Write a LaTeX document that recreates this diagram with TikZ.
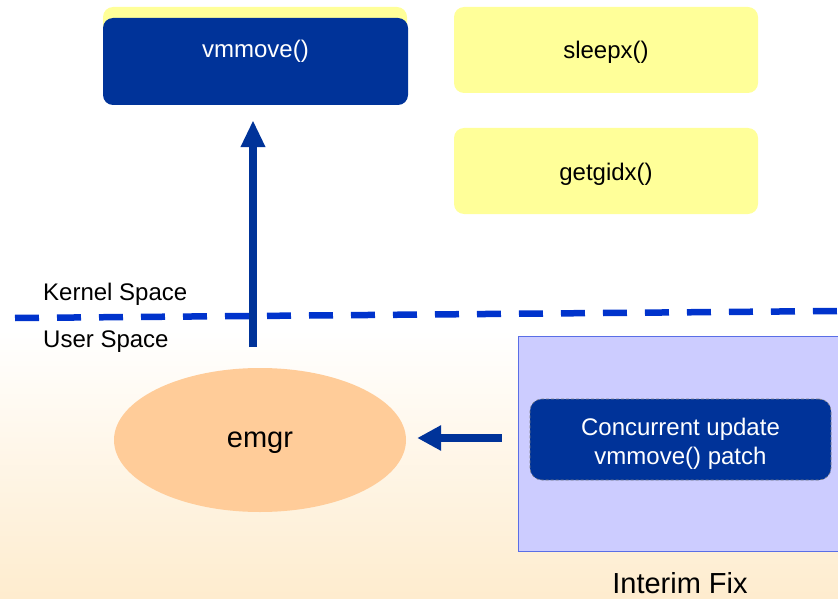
\documentclass[tikz,border=0pt]{standalone}
\usepackage{fontspec}
\setmainfont{Liberation Sans}
\usetikzlibrary{arrows.meta,shapes.geometric}
\definecolor{dblue}{RGB}{0,51,153}
\definecolor{lyellow}{RGB}{255,255,153}
\definecolor{dashblue}{RGB}{0,51,204}
\definecolor{peach}{RGB}{255,204,153}
\definecolor{lav}{RGB}{204,204,255}
\definecolor{lavborder}{RGB}{90,110,230}
\definecolor{bgpeach}{RGB}{254,236,206}
\tikzset{
  x=1pt, y=-1pt,
  txt/.style={font=\fontsize{24}{29}\selectfont},
  ybox/.style={fill=lyellow, rounded corners=10pt, minimum width=304pt, minimum height=86pt, inner sep=0pt, txt, text height=23pt, text depth=5pt},
  bbox/.style={fill=dblue, rounded corners=10pt, text=white, inner sep=0pt, txt, align=center},
  bigarrow/.style={draw=dblue, line width=7.5pt, -{Triangle[width=23pt,length=27pt]}},
  lbl/.style={txt, anchor=west, inner sep=0pt}
}
\begin{document}
\begin{tikzpicture}
\useasboundingbox (0,0) rectangle (838,599);
\clip (0,0) rectangle (838,599);
\shade[top color=white, bottom color=bgpeach] (0,330) rectangle (838,599);
% background lavender panel
\node[fill=lav, draw=lavborder, line width=1pt, minimum width=340pt, minimum height=215pt, inner sep=0pt, anchor=north west] (panel) at (518,336) {};
% yellow boxes
\node[ybox] (back) at (255,50) {};
\node[ybox] (sleepx) at (606,50) {sleepx()};
\node[ybox] (getgidx) at (606,171) {getgidx()};
% vmmove box
\node[bbox, minimum width=305pt, minimum height=87pt, text height=17pt, text depth=25pt] (vmmove) at (255.5,61.5) {vmmove()};
% boundary
\coordinate (dl) at (15,318);
\coordinate (dr) at (838,311);
\draw[dashblue, line width=6.5pt, dash pattern=on 24pt off 18pt] (dl) -- (dr);
\node[lbl] (kernel) at (43,294) {Kernel Space};
\node[lbl] (user) at (43,342) {User Space};
% up arrow
\coordinate (upstart) at (253,347);
\draw[bigarrow, shorten >=15pt] (upstart) -- (upstart |- vmmove.south);
% emgr
\node[ellipse, fill=peach, minimum width=292pt, minimum height=144pt, inner sep=0pt, font=\fontsize{29}{34}\selectfont, text height=21.5pt, text depth=6pt] (emgr) at (260,440) {emgr};
% patch box
\node[bbox, draw=gray, densely dashed, line width=0.6pt, minimum width=301pt, minimum height=81pt, rounded corners=12pt] (patch) at (680.5,439.5) {\rule{0pt}{25.5pt}Concurrent update\\vmmove() patch};
% left arrow
\draw[bigarrow, line width=8pt, -{Triangle[width=24pt,length=24pt]}, shorten <=28pt, shorten >=11pt] (patch.west |- 0,438) -- (emgr.east |- 0,438);
\node[font=\fontsize{29}{34}\selectfont, inner sep=0pt] (interim) at (680,583) {Interim Fix};
\end{tikzpicture}
\end{document}
